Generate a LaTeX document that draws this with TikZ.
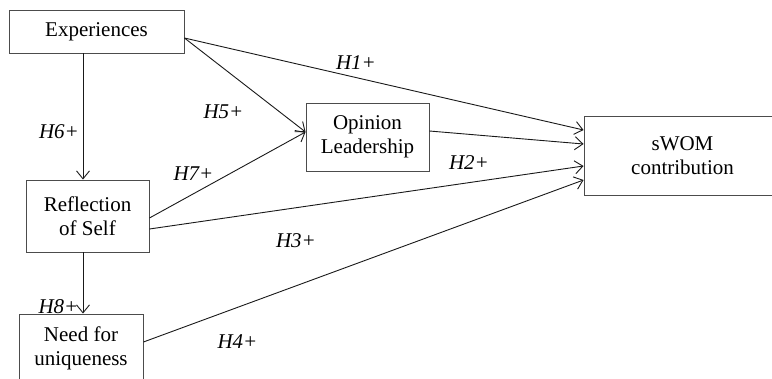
\documentclass[tikz,border=0pt]{standalone}
\usepackage{fontspec}
\setmainfont{Liberation Serif}
\usetikzlibrary{arrows.meta}
\begin{document}
\begin{tikzpicture}[x=1pt,y=-1pt,
  box/.style={draw=black!70, line width=0.9pt, fill=white, inner sep=0pt, align=center,
    font=\fontsize{21}{24}\selectfont},
  lbl/.style={font=\fontsize{21}{24}\selectfont\itshape, inner sep=0pt},
  arr/.style={draw=black!90, line width=0.9pt, -{Straight Barb[length=8pt,width=13pt,line width=0.9pt]}},
  ln/.style={draw=black!90, line width=0.9pt}]
\useasboundingbox (0,0) rectangle (772,378);
\clip (0,0) rectangle (772,378);
% nodes
\node[box, minimum width=175pt, minimum height=43pt] (exp) at (96.5,31.5) {Experiences};
\node[box, minimum width=123pt, minimum height=72pt] (ref) at (87.5,216) {Reflection\\of Self};
\node[box, minimum width=124pt, minimum height=68pt] (need) at (81,348) {Need for\\uniqueness};
\node[box, minimum width=123pt, minimum height=68pt] (op) at (367.5,137) {Opinion\\Leadership};
\node[box, minimum width=197pt, minimum height=79pt] (swom) at (682.5,155.5) {sWOM\\contribution};
% connectors
\draw[arr] ([yshift=-6.5pt]exp.east) -- ([yshift=25.5pt]swom.west);
\draw[arr] ([yshift=-6.5pt]exp.east) -- ([yshift=5pt]op.west);
\draw[arr] ([xshift=-13.5pt]exp.south) -- ([xshift=-4.5pt]ref.north);
\draw[arr] ([yshift=-2pt]ref.east) -- ([yshift=5pt]op.west);
\draw[arr] ([yshift=6pt]op.east) -- ([yshift=11.5pt]swom.west);
\draw[arr] ([yshift=-13pt]ref.east) -- ([yshift=-10.5pt]swom.west);
\draw[arr] ([yshift=6pt]need.east) -- ([yshift=-24.5pt]swom.west);
\draw[arr] ([xshift=-4.5pt]ref.south) -- ([xshift=2pt]need.north);
% labels
\node[lbl] (h1) at (356,63) {H1+};
\node[lbl] (h2) at (469,163) {H2+};
\node[lbl] (h3) at (296,241) {H3+};
\node[lbl] (h4) at (237.5,342) {H4+};
\node[lbl] (h5) at (223.5,112) {H5+};
\node[lbl] (h6) at (59,132) {H6+};
\node[lbl] (h7) at (193.5,174) {H7+};
\node[lbl] (h8) at (58.5,307) {H8+};
\end{tikzpicture}
\end{document}
